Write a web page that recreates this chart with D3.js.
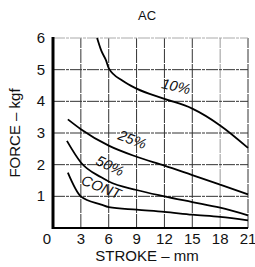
<!DOCTYPE html>
<html>
<head>
<meta charset="utf-8">
<script src="https://cdn.jsdelivr.net/npm/d3@7"></script>
<style>
  body { margin: 0; background: #fff; }
  text { font-family: "Liberation Sans", Arial, sans-serif; fill: #111; }
</style>
</head>
<body>
<svg width="255" height="267"></svg>
<script>
var xTicks = [0, 3, 6, 9, 12, 15, 18, 21];
var yTicks = [1, 2, 3, 4, 5, 6];

// curves: [stroke mm, force kgf]
var pct10 = [[4.75, 6.0], [5.2, 5.6], [5.7, 5.3], [6, 5.05], [7.5, 4.65], [9, 4.4], [12, 4.08], [15, 3.77], [18, 3.24], [21, 2.53]];
var pct25 = [[1.6, 3.43], [3, 3.12], [6, 2.6], [9, 2.25], [12, 1.97], [15, 1.67], [18, 1.37], [21, 1.06]];
var pct50 = [[1.5, 2.75], [3, 2.07], [5.2, 1.6], [6, 1.47], [9, 1.2], [12, 1.0], [15, 0.82], [18, 0.64], [21, 0.4]];
var cont = [[1.6, 1.75], [3, 1.0], [5.2, 0.74], [6, 0.66], [9, 0.58], [12, 0.51], [15, 0.42], [18, 0.35], [21, 0.24]];

var curveLabels = [
  {text: "10%", x: 13.25, y: 4.48, rot: 13},
  {text: "25%", x: 8.55, y: 2.8, rot: 21},
  {text: "50%", x: 6.14, y: 1.97, rot: 26},
  {text: "CONT", x: 5.2, y: 1.3, rot: 22}
];

var svg = d3.select("svg");
var x = d3.scaleLinear().domain([0, 21]).range([53, 248]);
var y = d3.scaleLinear().domain([0, 6]).range([228, 38]);

// grid
svg.append("g").selectAll("line").data(xTicks.slice(1)).join("line")
  .attr("x1", d => x(d)).attr("x2", d => x(d))
  .attr("y1", y(0)).attr("y2", y(6))
  .attr("stroke", d => d === 18 ? "#999" : "#333")
  .attr("stroke-width", 1)
  .attr("stroke-dasharray", "14,1");
svg.append("g").selectAll("line").data(yTicks).join("line")
  .attr("x1", x(0)).attr("x2", x(21))
  .attr("y1", d => y(d)).attr("y2", d => y(d))
  .attr("stroke", d => d === 6 ? "#aaa" : "#333")
  .attr("stroke-width", 1)
  .attr("stroke-dasharray", "12,1,3,1");

// axes
svg.append("line").attr("x1", x(0)).attr("x2", x(0)).attr("y1", y(6) - 1).attr("y2", y(0) + 1)
  .attr("stroke", "#000").attr("stroke-width", 3);
svg.append("line").attr("x1", x(0)).attr("x2", x(21)).attr("y1", y(0)).attr("y2", y(0))
  .attr("stroke", "#000").attr("stroke-width", 2);

// curves
var line = d3.line().x(d => x(d[0])).y(d => y(d[1])).curve(d3.curveMonotoneX);
[pct10, pct25, pct50, cont].forEach(function(s) {
  svg.append("path").datum(s).attr("d", line)
    .attr("fill", "none").attr("stroke", "#000").attr("stroke-width", 1.8);
});

// curve labels
svg.selectAll("text.cl").data(curveLabels).join("text")
  .attr("class", "cl")
  .attr("transform", d => "translate(" + x(d.x) + "," + y(d.y) + ") rotate(" + d.rot + ")")
  .attr("text-anchor", "middle")
  .attr("dy", "0.36em")
  .attr("font-size", 14.5)
  .attr("font-style", "italic")
  .text(d => d.text);

// tick labels
svg.selectAll("text.xt").data(xTicks).join("text")
  .attr("class", "xt")
  .attr("x", d => d === 0 ? x(d) - 6 : x(d)).attr("y", 244)
  .attr("text-anchor", "middle").attr("font-size", 15)
  .text(d => d);
svg.selectAll("text.yt").data(yTicks).join("text")
  .attr("class", "yt")
  .attr("x", 45).attr("y", d => y(d) + 5)
  .attr("text-anchor", "end").attr("font-size", 15)
  .text(d => d);

// titles
svg.append("text").attr("x", 147).attr("y", 20).attr("text-anchor", "middle")
  .attr("font-size", 13).text("AC");
svg.append("text").attr("x", 147).attr("y", 261).attr("text-anchor", "middle")
  .attr("font-size", 15).text("STROKE – mm");
svg.append("text").attr("transform", "translate(20,133) rotate(-90)").attr("text-anchor", "middle")
  .attr("font-size", 15).text("FORCE – kgf");
</script>
</body>
</html>
